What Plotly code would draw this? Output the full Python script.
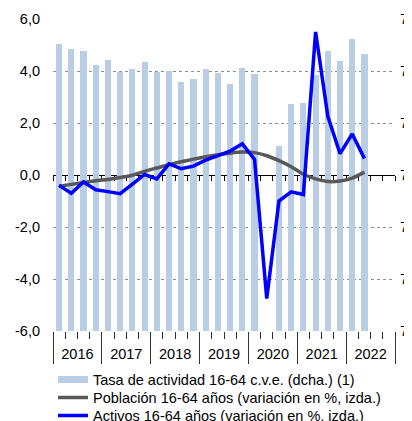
import plotly.graph_objects as go

quarters = ["2016-T1", "2016-T2", "2016-T3", "2016-T4",
            "2017-T1", "2017-T2", "2017-T3", "2017-T4",
            "2018-T1", "2018-T2", "2018-T3", "2018-T4",
            "2019-T1", "2019-T2", "2019-T3", "2019-T4",
            "2020-T1", "2020-T2", "2020-T3", "2020-T4",
            "2021-T1", "2021-T2", "2021-T3", "2021-T4",
            "2022-T1", "2022-T2"]
tasa_actividad = [75.52, 75.42, 75.38, 75.11, 75.21, 74.98, 75.04, 75.17,
                  74.98, 75.00, 74.79, 74.84, 75.04, 74.96, 74.75, 75.06,
                  74.94, None, 73.56, 74.36, 74.38, 74.92, 75.38, 75.19,
                  75.61, 75.32]
poblacion = [-0.43, -0.36, -0.29, -0.22, -0.17, -0.10, -0.01, 0.14,
             0.27, 0.40, 0.51, 0.61, 0.70, 0.78, 0.84, 0.88,
             0.86, 0.74, 0.55, 0.32, 0.03, -0.15, -0.25, -0.23,
             -0.12, 0.11]
activos = [-0.40, -0.70, -0.27, -0.57, -0.64, -0.72, -0.35, 0.02,
           -0.15, 0.43, 0.24, 0.34, 0.57, 0.75, 0.92, 1.20,
           0.60, -4.75, -1.00, -0.65, -0.75, 5.50, 2.26, 0.82,
           1.58, 0.63]
years = ["2016", "2017", "2018", "2019", "2020", "2021", "2022"]
left_ticks = [-6, -4, -2, 0, 2, 4, 6]
right_ticks = [70, 71, 72, 73, 74, 75, 76]

names = ["Tasa de actividad 16-64 c.v.e. (dcha.) (1)",
         "Población 16-64 años (variación en %, izda.)",
         "Activos 16-64 años (variación en %, izda.)"]

BAR_C = "#B9CDE5"
GRAY_C = "#595959"
BLUE_C = "#0000FF"
FONT = "Liberation Sans, Arial, sans-serif"

# the page body has an 8px margin, so the figure is sized to end at the window edge
OFF = 8
W, H = 412 - OFF, 421 - OFF
M_L, M_R, M_T, M_B = 45, 17, 11, 90

n_span = 4 * len(years)
xpos = [i + 0.5 for i in range(len(quarters))]
year_bounds = [4 * k for k in range(len(years) + 1)]
year_mid = [4 * k + 2 for k in range(len(years))]
fmt = lambda v: f"{v:.1f}".replace(".", ",")

fig = go.Figure()
fig.add_trace(go.Bar(x=xpos, y=tasa_actividad,
                     marker=dict(color=BAR_C, line_width=0), width=0.5,
                     xaxis="x", yaxis="y", showlegend=False))
fig.add_trace(go.Scatter(x=[None], y=[None], mode="lines", name=names[0],
                         line=dict(color=BAR_C, width=7), legend="legend"))
fig.add_trace(go.Scatter(x=xpos, y=poblacion, mode="lines", name=names[1],
                         line=dict(color=GRAY_C, width=3.5, shape="spline", smoothing=0.8),
                         xaxis="x", yaxis="y2", legend="legend2"))
fig.add_trace(go.Scatter(x=xpos, y=activos, mode="lines", name=names[2],
                         line=dict(color=BLUE_C, width=3.5),
                         xaxis="x", yaxis="y2", legend="legend3"))
# helper traces so the overlay axes are drawn
fig.add_trace(go.Scatter(x=[None], y=[None], xaxis="x2", yaxis="y2", showlegend=False))
fig.add_trace(go.Scatter(x=[None], y=[None], xaxis="x3", yaxis="y2", showlegend=False))

H_PLOT = H - M_T - M_B
def leg_y(page_px):
    return -((page_px - OFF) - (H - M_B)) / H_PLOT

legend_common = dict(x=0.0, xanchor="left", yanchor="middle", orientation="v",
                     bgcolor="rgba(0,0,0,0)", borderwidth=0,
                     font=dict(family=FONT, size=14.5, color="#000"),
                     itemwidth=30, tracegroupgap=0)
zero_pos = (0 - left_ticks[0]) / (left_ticks[-1] - left_ticks[0])

fig.update_layout(
    width=W, height=H,
    margin=dict(l=M_L, r=M_R, t=M_T, b=M_B, autoexpand=False),
    paper_bgcolor="white", plot_bgcolor="white",
    font=dict(family=FONT, size=14.5, color="#000"),
    bargap=0,
    xaxis=dict(range=[0, n_span], showgrid=False, zeroline=False, showline=False,
               automargin=False,
               tickmode="array", tickvals=year_bounds, ticks="outside", ticklen=32,
               tickwidth=1, tickcolor="#333", showticklabels=False,
               minor=dict(tickmode="linear", tick0=0, dtick=1, ticks="outside",
                          ticklen=7, tickwidth=1, tickcolor="#333", showgrid=False)),
    xaxis2=dict(overlaying="x", anchor="y", side="bottom", range=[0, n_span],
                automargin=False,
                showgrid=False, zeroline=False, showline=False, ticks="",
                tickmode="array", tickvals=year_mid, ticktext=years,
                ticklabelstandoff=12, tickfont=dict(size=14.5, color="#000")),
    xaxis3=dict(overlaying="x", anchor="free", position=zero_pos, side="bottom",
                automargin=False,
                range=[0, n_span], showgrid=False, zeroline=False,
                showline=True, linecolor="#000", linewidth=1, layer="below traces",
                ticks="outside", ticklen=5, tickwidth=1, tickcolor="#000",
                tickmode="linear", tick0=0, dtick=1, showticklabels=False),
    yaxis=dict(side="right", range=[right_ticks[0], right_ticks[-1]],
               automargin=False,
               tickmode="array", tickvals=right_ticks,
               ticktext=[fmt(v) for v in right_ticks],
               showgrid=True, gridcolor="#8c8c8c", gridwidth=1, griddash="dot",
               zeroline=False, showline=False, ticks="", ticklabelstandoff=4,
               ticklabeloverflow="allow",
               tickfont=dict(size=14.5, color="#000")),
    yaxis2=dict(side="left", overlaying="y", range=[left_ticks[0], left_ticks[-1]],
                automargin=False,
                tickmode="array", tickvals=left_ticks,
                ticktext=[fmt(v) for v in left_ticks],
                showgrid=False, zeroline=False, showline=False, ticks="",
                ticklabelstandoff=12, tickfont=dict(size=14.5, color="#000")),
    legend=dict(legend_common, y=leg_y(379.5)),
    legend2=dict(legend_common, y=leg_y(397.5)),
    legend3=dict(legend_common, y=leg_y(415.5)),
)

fig.write_html("out.html")
